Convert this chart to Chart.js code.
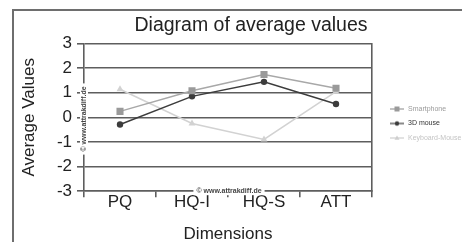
<!DOCTYPE html>
<html>
<head>
<meta charset="utf-8">
<script src="https://cdn.jsdelivr.net/npm/chart.js@4/dist/chart.umd.min.js"></script>
<style>
  html, body { margin: 0; padding: 0; background: #fff; overflow: hidden; }
  #wrap { position: relative; width: 474px; height: 242px; overflow: hidden; }
  #wrap canvas { display: block; }
  .edge { position: absolute; background: #6e6e6e; pointer-events: none; }
  #edgeTop { left: 12px; top: 9px; width: 450px; height: 2px; }
  #edgeLeft { left: 12px; top: 9px; width: 2px; height: 233px; }
</style>
</head>
<body>
<div id="wrap">
  <canvas id="chart" width="474" height="242"></canvas>
  <div class="edge" id="edgeTop"></div>
  <div class="edge" id="edgeLeft"></div>
</div>
<script>
// Data
const categories = ['PQ', 'HQ-I', 'HQ-S', 'ATT'];
const seriesNames = ['Smartphone', '3D mouse', 'Keyboard-Mouse'];
const smartphone = [0.24, 1.08, 1.74, 1.18];
const mouse3d = [-0.29, 0.85, 1.44, 0.54];
const keyboardMouse = [1.14, -0.25, -0.90, 1.04];
const yMin = -3;
const yMax = 3;

const gridColor = '#5e5e5e';
const watermark = '\u00A9 www.attrakdiff.de';

// small legend sample: a line with the marker in the middle
function legendSample(color, style, r) {
    const c = document.createElement('canvas');
    c.width = 26;
    c.height = 10;
    const g = c.getContext('2d');
    g.strokeStyle = color;
    g.fillStyle = color;
    g.lineWidth = 1.2;
    g.beginPath();
    g.moveTo(11, 5);
    g.lineTo(25, 5);
    g.stroke();
    g.beginPath();
    if (style === 'rect') {
        g.rect(18 - r, 5 - r, 2 * r, 2 * r);
    } else if (style === 'triangle') {
        g.moveTo(18, 5 - r);
        g.lineTo(18 + r, 5 + r * 0.7);
        g.lineTo(18 - r, 5 + r * 0.7);
        g.closePath();
    } else {
        g.arc(18, 5, r, 0, Math.PI * 2);
    }
    g.fill();
    return c;
}

const seriesStyles = [
    { line: '#a8a8a8', point: '#9a9a9a', text: '#9a9a9a', style: 'rect', radius: 5 },
    { line: '#3c3c3c', point: '#3c3c3c', text: '#333333', style: 'circle', radius: 3.2 },
    { line: '#d2d2d2', point: '#d2d2d2', text: '#c4c4c4', style: 'triangle', radius: 4 }
];
const samples = [
    legendSample('#9a9a9a', 'rect', 2.5),
    legendSample('#3c3c3c', 'circle', 2.2),
    legendSample('#cfcfcf', 'triangle', 2.5)
];

// watermark text on the axes
const watermarkPlugin = {
    id: 'watermark',
    afterDraw(chart) {
        const ctx = chart.ctx;
        const area = chart.chartArea;
        ctx.save();
        ctx.font = "bold 7px 'Liberation Sans', Arial, sans-serif";
        ctx.textAlign = 'center';
        ctx.textBaseline = 'middle';
        const w = ctx.measureText(watermark).width;
        // bottom
        const bx = (area.left + area.right) / 2 + 1;
        ctx.fillStyle = '#fff';
        ctx.fillRect(bx - w / 2 - 3, area.bottom - 4, w + 6, 8);
        ctx.fillStyle = '#444';
        ctx.fillText(watermark, bx, area.bottom);
        // left, rotated
        ctx.translate(area.left, 119);
        ctx.rotate(-Math.PI / 2);
        ctx.fillStyle = '#fff';
        ctx.fillRect(-w / 2 - 3, -4, w + 6, 8);
        ctx.fillStyle = '#444';
        ctx.fillText(watermark, 0, 0);
        ctx.restore();
    }
};

Chart.defaults.font.family = "'Liberation Sans', Arial, sans-serif";
Chart.defaults.color = '#222';

const values = [smartphone, mouse3d, keyboardMouse];

new Chart(document.getElementById('chart'), {
    type: 'line',
    data: {
        labels: categories,
        datasets: seriesNames.map((name, i) => ({
            label: name,
            data: values[i],
            borderColor: seriesStyles[i].line,
            backgroundColor: seriesStyles[i].point,
            pointBackgroundColor: seriesStyles[i].point,
            pointBorderColor: seriesStyles[i].point,
            pointStyle: seriesStyles[i].style,
            pointRadius: seriesStyles[i].radius,
            pointBorderWidth: 0,
            borderWidth: 1.5,
            tension: 0
        }))
    },
    options: {
        responsive: false,
        animation: false,
        layout: { padding: { left: 40, right: 12, top: 5, bottom: 0 } },
        plugins: {
            title: {
                display: true,
                text: 'Diagram of average values',
                color: '#222',
                font: { size: 19.5, weight: 'normal' },
                padding: { top: 9, bottom: 6 }
            },
            legend: {
                position: 'right',
                maxWidth: 90,
                labels: {
                    usePointStyle: true,
                    pointStyleWidth: 25,
                    padding: 7.5,
                    font: { size: 7 },
                    generateLabels(chart) {
                        const items = Chart.defaults.plugins.legend.labels.generateLabels(chart);
                        items.forEach((item, i) => {
                            item.pointStyle = samples[i];
                            item.fontColor = seriesStyles[i].text;
                        });
                        return items;
                    }
                }
            },
            tooltip: { enabled: false }
        },
        scales: {
            x: {
                offset: true,
                grid: {
                    offset: true,
                    drawOnChartArea: false,
                    drawTicks: true,
                    tickLength: 6,
                    color: gridColor,
                    lineWidth: 1.6
                },
                border: { display: true, color: gridColor, width: 1.6 },
                ticks: { padding: -5, color: '#222', font: { size: 17 } },
                title: {
                    display: true,
                    text: 'Dimensions',
                    color: '#222',
                    font: { size: 17 },
                    padding: { top: 16.3, bottom: -2.3 }
                }
            },
            y: {
                min: yMin,
                max: yMax,
                afterFit(scale) { scale.width = 44; },
                ticks: { stepSize: 1, padding: 5, color: '#222', font: { size: 17 } },
                grid: { color: gridColor, lineWidth: 1.6, tickLength: 7 },
                border: { display: true, color: gridColor, width: 1.6 },
                title: {
                    display: true,
                    text: 'Average Values',
                    color: '#222',
                    font: { size: 17 },
                    padding: { top: -21.2, bottom: 0 }
                }
            },
            y2: {
                type: 'linear',
                position: 'right',
                min: yMin,
                max: yMax,
                weight: -1,
                afterFit(scale) { scale.width = 0; },
                ticks: { display: false },
                grid: { drawOnChartArea: false, drawTicks: false },
                border: { display: true, color: gridColor, width: 1.6 }
            }
        }
    },
    plugins: [watermarkPlugin]
});
</script>
</body>
</html>
